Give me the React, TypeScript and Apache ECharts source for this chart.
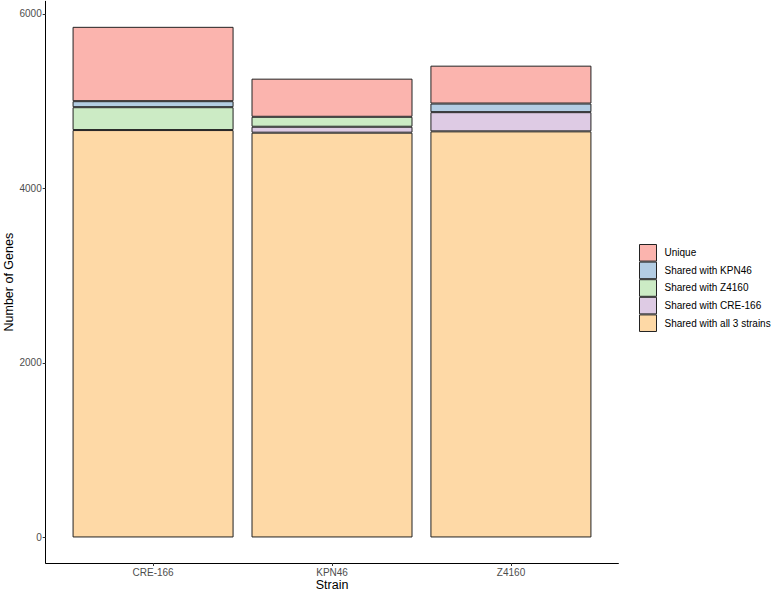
import React, { useEffect, useRef } from "react";
import * as echarts from "echarts";

const categories = ["CRE-166", "KPN46", "Z4160"];
const xPositions = [1, 2, 3];
const sharedAll3 = [4669, 4639, 4654];
const sharedCRE166 = [0, 68, 220];
const sharedZ4160 = [262, 114, 0];
const sharedKPN46 = [69, 0, 99];
const unique = [852, 437, 434];
const yTicks = [0, 2000, 4000, 6000];

const seriesDefs = [
  { name: "Shared with all 3 strains", values: sharedAll3, color: "#FED9A6" },
  { name: "Shared with CRE-166", values: sharedCRE166, color: "#DECBE4" },
  { name: "Shared with Z4160", values: sharedZ4160, color: "#CCEBC5" },
  { name: "Shared with KPN46", values: sharedKPN46, color: "#B3CDE3" },
  { name: "Unique", values: unique, color: "#FBB4AE" },
];
const legendOrder = [
  "Unique",
  "Shared with KPN46",
  "Shared with Z4160",
  "Shared with CRE-166",
  "Shared with all 3 strains",
];

export default function App() {
  const ref = useRef<HTMLDivElement>(null);
  useEffect(() => {
    if (!ref.current) return;
    const chart = echarts.init(ref.current, null, { renderer: "svg" });
    const font = "Liberation Sans, Arial, sans-serif";
    const yMin = -292.6;
    const yMax = 6144.6;
    chart.setOption({
      animation: false,
      backgroundColor: "#ffffff",
      textStyle: { fontFamily: font },
      grid: [
        { left: 45.7, right: 155.6, top: 1.3, bottom: 32, containLabel: false, outerBoundsMode: "none" },
        { left: 63.6, right: 173.6, top: 1.3, bottom: 32, containLabel: false, outerBoundsMode: "none" },
      ],
      legend: {
        orient: "vertical",
        left: 639,
        top: 244,
        padding: 0,
        itemWidth: 17,
        itemHeight: 16.6,
        itemGap: 0,
        icon: "rect",
        data: legendOrder,
        itemStyle: { borderColor: "#222", borderWidth: 1 },
        textStyle: { fontSize: 10, color: "#000", fontFamily: font, padding: [0, 0, 0, 3] },
      },
      xAxis: [
        {
          type: "value",
          gridIndex: 0,
          min: 0.4,
          max: 3.6,
          name: "Strain",
          nameLocation: "middle",
          nameGap: 15,
          nameMoveOverlap: false,
          nameTextStyle: { fontSize: 12.5, color: "#000", fontFamily: font },
          axisLine: { show: true, onZero: false, lineStyle: { color: "#000", width: 1 } },
          axisTick: { show: true, length: 3, customValues: xPositions, lineStyle: { color: "#333" } },
          axisLabel: {
            customValues: xPositions,
            margin: 4,
            fontSize: 10,
            color: "#4d4d4d",
            formatter: (v: number) => categories[Math.round(v) - 1] ?? "",
          },
          splitLine: { show: false },
        },
        {
          type: "category",
          gridIndex: 1,
          data: categories,
          show: false,
        },
      ],
      yAxis: [
        {
          type: "value",
          gridIndex: 0,
          min: yMin,
          max: yMax,
          name: "Number of Genes",
          nameLocation: "middle",
          nameGap: 30,
          nameMoveOverlap: false,
          nameTextStyle: { fontSize: 12.5, color: "#000", fontFamily: font },
          axisLine: { show: true, lineStyle: { color: "#000", width: 1 } },
          axisTick: { show: true, length: 3, customValues: yTicks, lineStyle: { color: "#333" } },
          axisLabel: {
            customValues: yTicks,
            margin: 4,
            fontSize: 10,
            color: "#4d4d4d",
            formatter: (v: number) => String(v),
          },
          splitLine: { show: false },
        },
        {
          type: "value",
          gridIndex: 1,
          min: yMin,
          max: yMax,
          show: false,
          splitLine: { show: false },
        },
      ],
      series: seriesDefs.map((s) => ({
        name: s.name,
        type: "bar",
        stack: "total",
        xAxisIndex: 1,
        yAxisIndex: 1,
        barWidth: 161,
        data: s.values.map((v) => (v === 0 ? "-" : v)),
        itemStyle: { color: s.color, borderColor: "#222", borderWidth: 1 },
      })),
    });
    return () => chart.dispose();
  }, []);
  return (
    <div
      ref={ref}
      style={{ position: "fixed", left: 0, top: 0, width: 774, height: 595 }}
    />
  );
}
